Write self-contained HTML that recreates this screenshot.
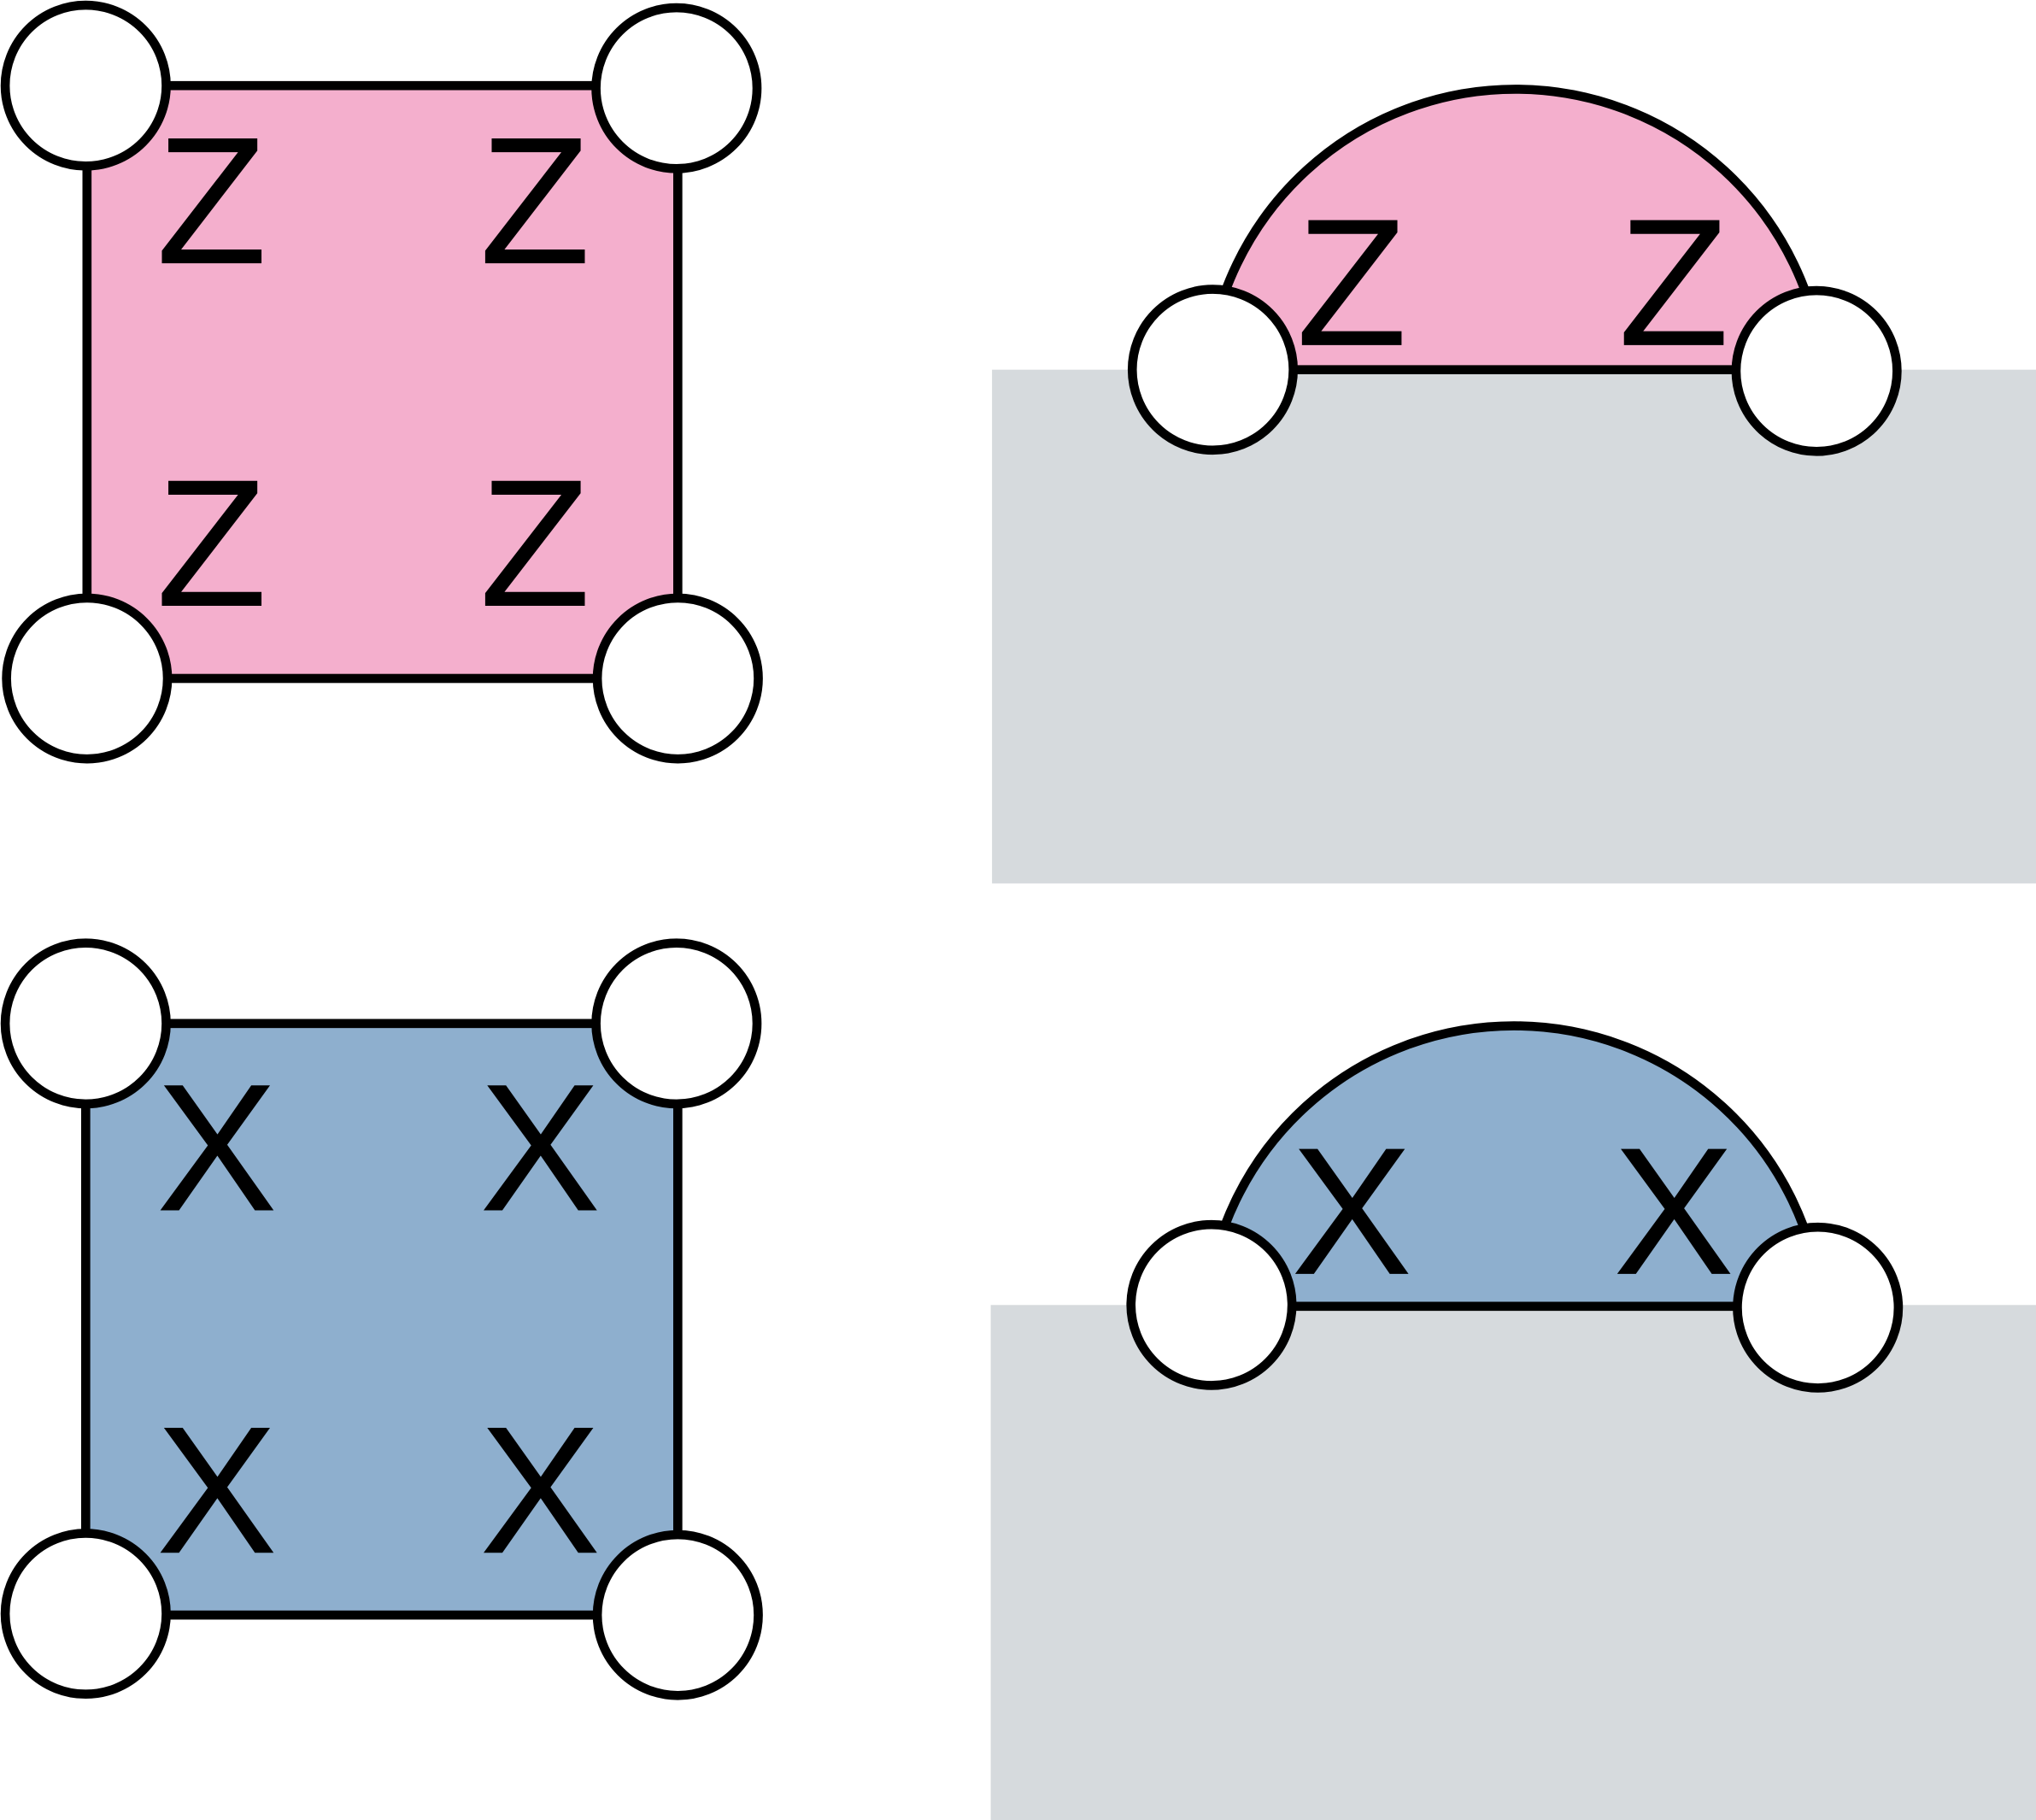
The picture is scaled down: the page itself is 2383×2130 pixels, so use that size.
<!DOCTYPE html>
<html><head><meta charset="utf-8"><style>
html,body{margin:0;padding:0;background:#fff;}
svg{display:block;}
text{font-family:"Liberation Sans",sans-serif;font-size:140px;}
</style></head><body>
<svg width="2383" height="2130" viewBox="0 0 1568 1403" preserveAspectRatio="none" xmlns="http://www.w3.org/2000/svg">
<g>
<rect x="67" y="66" width="455" height="457" fill="#f4afcd" stroke="#000" stroke-width="7"/>
<text x="163" y="203" text-anchor="middle">Z</text>
<text x="412" y="203" text-anchor="middle">Z</text>
<text x="163" y="467" text-anchor="middle">Z</text>
<text x="412" y="467" text-anchor="middle">Z</text>
<circle cx="66" cy="66" r="62" fill="#fff" stroke="#000" stroke-width="7"/>
<circle cx="521" cy="68" r="62" fill="#fff" stroke="#000" stroke-width="7"/>
<circle cx="67" cy="523" r="62" fill="#fff" stroke="#000" stroke-width="7"/>
<circle cx="522" cy="523" r="62" fill="#fff" stroke="#000" stroke-width="7"/>
</g>
<g>
<rect x="66" y="789" width="456" height="456" fill="#8eafce" stroke="#000" stroke-width="7"/>
<text x="167" y="933" text-anchor="middle">X</text>
<text x="416" y="933" text-anchor="middle">X</text>
<text x="167" y="1197" text-anchor="middle">X</text>
<text x="416" y="1197" text-anchor="middle">X</text>
<circle cx="66" cy="789" r="62" fill="#fff" stroke="#000" stroke-width="7"/>
<circle cx="521" cy="789" r="62" fill="#fff" stroke="#000" stroke-width="7"/>
<circle cx="66" cy="1244" r="62" fill="#fff" stroke="#000" stroke-width="7"/>
<circle cx="522" cy="1245" r="62" fill="#fff" stroke="#000" stroke-width="7"/>
</g>
<g>
<rect x="764" y="285" width="804" height="396" fill="#d6dadd"/>
<path d="M 930 285 A 238 238 0 0 1 1404 285 Z" fill="#f4afcd" stroke="#000" stroke-width="7"/>
<text x="1041" y="266" text-anchor="middle">Z</text>
<text x="1289" y="266" text-anchor="middle">Z</text>
<circle cx="934" cy="285" r="62" fill="#fff" stroke="#000" stroke-width="7"/>
<circle cx="1399" cy="286" r="62" fill="#fff" stroke="#000" stroke-width="7"/>
</g>
<g>
<rect x="763" y="1006" width="805" height="397" fill="#d6dadd"/>
<path d="M 929 1007 A 238 238 0 0 1 1403 1007 Z" fill="#8eafce" stroke="#000" stroke-width="7"/>
<text x="1041" y="982" text-anchor="middle">X</text>
<text x="1289" y="982" text-anchor="middle">X</text>
<circle cx="933" cy="1006" r="62" fill="#fff" stroke="#000" stroke-width="7"/>
<circle cx="1400" cy="1008" r="62" fill="#fff" stroke="#000" stroke-width="7"/>
</g>
</svg>
</body></html>
